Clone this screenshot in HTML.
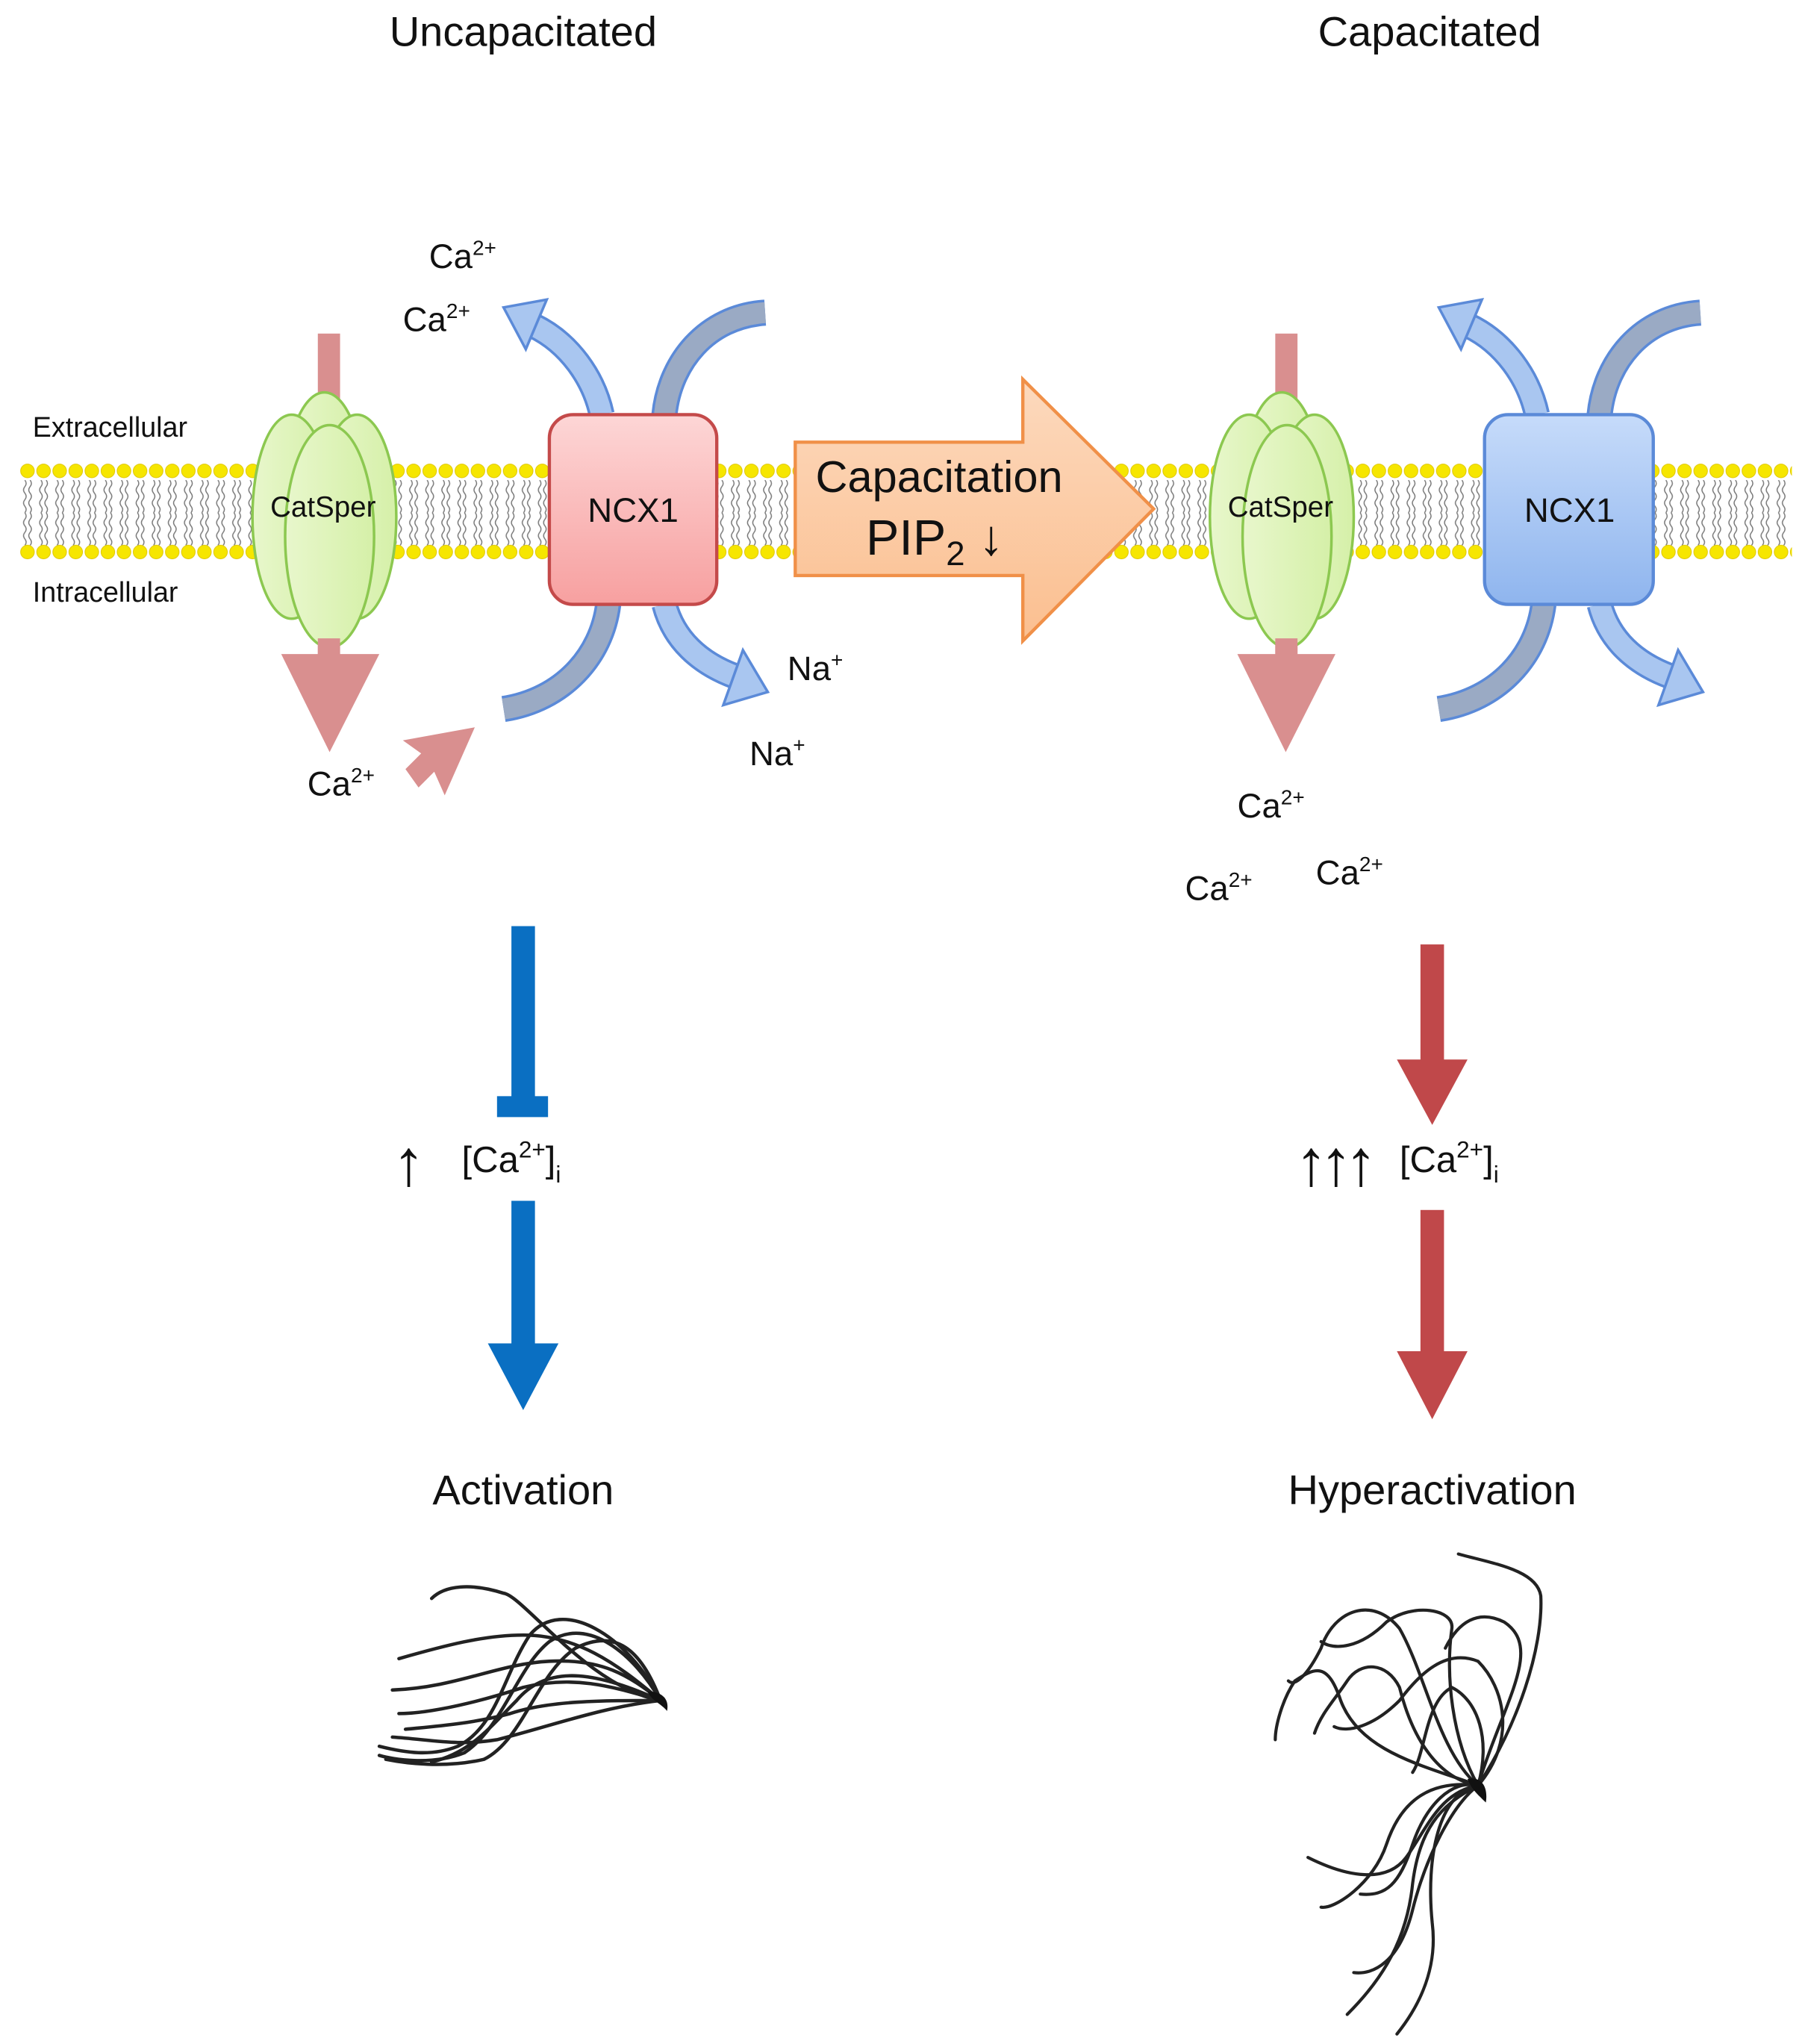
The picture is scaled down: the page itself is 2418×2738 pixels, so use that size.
<!DOCTYPE html>
<html><head><meta charset="utf-8"><style>
html,body{margin:0;padding:0;background:#fff;}
svg{display:block;}
text{font-family:"Liberation Sans",Arial,sans-serif;fill:#111;}
</style></head><body>
<svg width="2418" height="2738" viewBox="0 0 1380 1562.6" xmlns="http://www.w3.org/2000/svg">
<defs>
<pattern id="headsT" x="15" y="350" width="12.3" height="20" patternUnits="userSpaceOnUse">
<circle cx="6" cy="10" r="5.2" fill="#f6e600" stroke="#e0c800" stroke-width="0.6"/>
</pattern>
<pattern id="headsB" x="15" y="412" width="12.3" height="20" patternUnits="userSpaceOnUse">
<circle cx="6" cy="10" r="5.2" fill="#f6e600" stroke="#e0c800" stroke-width="0.6"/>
</pattern>
<pattern id="tails" x="15" y="367" width="12.3" height="25" patternUnits="userSpaceOnUse">
<path d="M4,0 q2,2.5 0,5 q-2,2.5 0,5 q2,2.5 0,5 q-2,2.5 0,5 q2,2.5 0,5 M8,0 q2,2.5 0,5 q-2,2.5 0,5 q2,2.5 0,5 q-2,2.5 0,5 q2,2.5 0,5" fill="none" stroke="#777" stroke-width="0.8"/>
</pattern>
<linearGradient id="pink" x1="0" y1="0" x2="0" y2="1"><stop offset="0" stop-color="#fdd6d6"/><stop offset="1" stop-color="#f7a0a0"/></linearGradient>
<linearGradient id="blue" x1="0" y1="0" x2="0" y2="1"><stop offset="0" stop-color="#c6dbfa"/><stop offset="1" stop-color="#8fb5ee"/></linearGradient>
<linearGradient id="green" x1="0" y1="0" x2="1" y2="0"><stop offset="0" stop-color="#e8f7cc"/><stop offset="1" stop-color="#d5f0a8"/></linearGradient>
<linearGradient id="orange" x1="0" y1="0" x2="0" y2="1"><stop offset="0" stop-color="#fcd9bd"/><stop offset="1" stop-color="#fbbf90"/></linearGradient>
<g id="catsper">
<ellipse cx="0" cy="-20" rx="30" ry="75" fill="url(#green)" stroke="#8cc850" stroke-width="2"/>
<ellipse cx="-25" cy="0" rx="30" ry="78" fill="url(#green)" stroke="#8cc850" stroke-width="2"/>
<ellipse cx="25" cy="0" rx="30" ry="78" fill="url(#green)" stroke="#8cc850" stroke-width="2"/>
<ellipse cx="4" cy="15" rx="34" ry="85" fill="url(#green)" stroke="#8cc850" stroke-width="2"/>
</g>
<g id="exch">
<path d="M40,0 C34,-28 15,-55 -12,-68" fill="none" stroke="#5b8ad8" stroke-width="20"/>
<path d="M40,0 C34,-28 15,-55 -12,-68" fill="none" stroke="#a9c6f0" stroke-width="16"/>
<polygon points="-35,-82 -2,-88 -18,-50" fill="#a9c6f0" stroke="#5b8ad8" stroke-width="2"/>
<path d="M88,0 C92,-40 120,-75 165,-78" fill="none" stroke="#5b8ad8" stroke-width="20"/>
<path d="M88,0 C92,-40 120,-75 165,-78" fill="none" stroke="#9aaac4" stroke-width="16"/>
<path d="M45,145 C40,185 10,218 -35,225" fill="none" stroke="#5b8ad8" stroke-width="20"/>
<path d="M45,145 C40,185 10,218 -35,225" fill="none" stroke="#9aaac4" stroke-width="16"/>
<path d="M88,145 C95,172 115,190 142,200" fill="none" stroke="#5b8ad8" stroke-width="20"/>
<path d="M88,145 C95,172 115,190 142,200" fill="none" stroke="#a9c6f0" stroke-width="16"/>
<polygon points="167,212 148,180 133,222" fill="#a9c6f0" stroke="#5b8ad8" stroke-width="2"/>
</g>
</defs>

<text x="400" y="35" font-size="32" text-anchor="middle">Uncapacitated</text>
<text x="1093" y="35" font-size="32" text-anchor="middle">Capacitated</text>

<!-- membrane -->
<rect x="15" y="367" width="1355" height="50" fill="url(#tails)"/>
<rect x="15" y="350" width="1355" height="20" fill="url(#headsT)"/>
<rect x="15" y="412" width="1355" height="20" fill="url(#headsB)"/>

<text x="25" y="334" font-size="21.5">Extracellular</text>
<text x="25" y="460" font-size="21.5">Intracellular</text>

<!-- Left side -->
<rect x="243" y="255" width="17" height="250" fill="#d98f8f"/>
<use href="#catsper" x="248" y="395"/>
<rect x="243" y="488" width="17" height="14" fill="#d98f8f"/>
<polygon points="215,500 290,500 252,575" fill="#d98f8f"/>
<text x="247" y="395" font-size="22" text-anchor="middle">CatSper</text>

<use href="#exch" x="420" y="317"/>
<rect x="420" y="317" width="128" height="145" rx="18" fill="url(#pink)" stroke="#c44a4a" stroke-width="2.5"/>
<text x="484" y="399" font-size="26" text-anchor="middle">NCX1</text>

<text x="328" y="205" font-size="26">Ca<tspan font-size="16" dy="-10">2+</tspan></text>
<text x="308" y="253" font-size="26">Ca<tspan font-size="16" dy="-10">2+</tspan></text>
<text x="602" y="520" font-size="26">Na<tspan font-size="16" dy="-10">+</tspan></text>
<text x="573" y="585" font-size="26">Na<tspan font-size="16" dy="-10">+</tspan></text>
<text x="235" y="608" font-size="26">Ca<tspan font-size="16" dy="-10">2+</tspan></text>
<polygon points="363,556 340,608 332,590 320,602 310,588 322,576 308,566" fill="#d98f8f"/>

<!-- orange arrow -->
<polygon points="608,338 782,338 782,290 882,389 782,490 782,440 608,440" fill="url(#orange)" stroke="#f09048" stroke-width="2.5"/>
<text x="718" y="376" font-size="34" text-anchor="middle">Capacitation</text>
<text x="662" y="424" font-size="38">PIP<tspan font-size="26" dy="8">2</tspan><tspan dy="-8"> ↓</tspan></text>

<!-- Right side -->
<rect x="975" y="255" width="17" height="250" fill="#d98f8f"/>
<use href="#catsper" x="980" y="395"/>
<rect x="975" y="488" width="17" height="14" fill="#d98f8f"/>
<polygon points="946,500 1021,500 983,575" fill="#d98f8f"/>
<text x="979" y="395" font-size="22" text-anchor="middle">CatSper</text>

<use href="#exch" x="1135" y="317"/>
<rect x="1135" y="317" width="129" height="145" rx="18" fill="url(#blue)" stroke="#5b8ad8" stroke-width="2.5"/>
<text x="1200" y="399" font-size="26" text-anchor="middle">NCX1</text>

<text x="946" y="625" font-size="26">Ca<tspan font-size="16" dy="-10">2+</tspan></text>
<text x="906" y="688" font-size="26">Ca<tspan font-size="16" dy="-10">2+</tspan></text>
<text x="1006" y="676" font-size="26">Ca<tspan font-size="16" dy="-10">2+</tspan></text>

<!-- left lower -->
<rect x="391" y="708" width="18" height="135" fill="#0a6fc2"/>
<rect x="380" y="838" width="39" height="16" fill="#0a6fc2"/>
<text x="300" y="906" font-size="50">↑</text>
<text x="353" y="896" font-size="28">[Ca<tspan font-size="18" dy="-11">2+</tspan><tspan dy="11">]</tspan><tspan font-size="18" dy="8">i</tspan></text>
<rect x="391" y="918" width="18" height="112" fill="#0a6fc2"/>
<polygon points="373,1027 427,1027 400,1078" fill="#0a6fc2"/>
<text x="400" y="1150" font-size="32" text-anchor="middle">Activation</text>

<!-- right lower -->
<rect x="1086" y="722" width="18" height="90" fill="#c0484a"/>
<polygon points="1068,810 1122,810 1095,860" fill="#c0484a"/>
<text x="990" y="906" font-size="50" letter-spacing="-6">↑↑↑</text>
<text x="1070" y="896" font-size="28">[Ca<tspan font-size="18" dy="-11">2+</tspan><tspan dy="11">]</tspan><tspan font-size="18" dy="8">i</tspan></text>
<rect x="1086" y="925" width="18" height="110" fill="#c0484a"/>
<polygon points="1068,1033 1122,1033 1095,1085" fill="#c0484a"/>
<text x="1095" y="1150" font-size="32" text-anchor="middle">Hyperactivation</text>

<!-- flagella left -->
<g fill="none" stroke="#222" stroke-width="2.6" stroke-linecap="round">
<path d="M505,1300 C470,1270 440,1250 400,1250 C370,1250 340,1258 305,1268"/>
<path d="M505,1300 C480,1280 460,1268 420,1270 C380,1272 350,1290 300,1292"/>
<path d="M505,1300 C470,1290 440,1280 400,1290 C370,1300 330,1310 305,1310"/>
<path d="M505,1300 C460,1300 420,1300 390,1310 C360,1318 330,1320 310,1322"/>
<path d="M505,1300 C480,1250 430,1220 405,1250 C385,1280 380,1320 350,1335 C330,1343 310,1340 290,1335"/>
<path d="M505,1300 C485,1265 450,1235 420,1255 C395,1275 385,1320 355,1340 C330,1350 300,1345 290,1342"/>
<path d="M505,1300 C490,1260 470,1245 440,1260 C410,1280 400,1330 370,1345 C340,1352 310,1348 295,1345"/>
<path d="M505,1300 C460,1280 420,1270 395,1300 C375,1320 360,1340 330,1347"/>
<path d="M505,1300 C450,1290 400,1220 385,1218 M385,1218 C360,1210 340,1212 330,1222"/>
<path d="M505,1300 C460,1305 420,1320 380,1330 C350,1335 330,1330 300,1328"/>
</g>
<path d="M495,1293 C505,1293 512,1298 510,1308 C505,1302 498,1300 495,1293 Z" fill="#111"/>

<!-- flagella right -->
<g fill="none" stroke="#222" stroke-width="2.4" stroke-linecap="round">
<path d="M1130,1365 C1160,1320 1180,1260 1178,1220 C1175,1200 1140,1195 1115,1188"/>
<path d="M1130,1365 C1110,1330 1105,1280 1110,1245 C1112,1230 1080,1225 1060,1240 C1040,1260 1020,1262 1010,1255"/>
<path d="M1130,1365 C1100,1340 1090,1280 1070,1245 C1050,1220 1020,1230 1010,1260 C1000,1280 990,1290 985,1285"/>
<path d="M1130,1365 C1090,1350 1040,1340 1025,1300 C1015,1270 1005,1275 990,1285 C980,1300 975,1320 975,1330"/>
<path d="M1130,1365 C1160,1330 1150,1290 1130,1270 C1105,1260 1085,1280 1070,1300 C1050,1320 1030,1325 1020,1320"/>
<path d="M1130,1365 C1100,1360 1080,1330 1070,1290 C1060,1270 1040,1270 1030,1285 C1020,1300 1010,1310 1005,1325"/>
<path d="M1130,1365 C1110,1360 1090,1380 1080,1410 C1070,1440 1060,1450 1040,1448"/>
<path d="M1130,1365 C1100,1370 1090,1400 1075,1420 C1060,1440 1030,1435 1000,1420"/>
<path d="M1130,1365 C1100,1380 1085,1400 1080,1440 C1075,1490 1050,1520 1030,1540"/>
<path d="M1130,1365 C1100,1370 1090,1420 1095,1470 C1100,1510 1080,1540 1068,1555"/>
<path d="M1130,1365 C1110,1380 1090,1420 1080,1460 C1070,1500 1050,1510 1035,1508"/>
<path d="M1130,1365 C1090,1360 1070,1380 1060,1410 C1050,1440 1020,1460 1010,1458"/>
<path d="M1130,1365 C1140,1330 1130,1300 1110,1290 C1090,1300 1090,1340 1080,1355"/>
<path d="M1130,1365 C1150,1300 1180,1260 1150,1240 C1130,1230 1115,1240 1105,1260"/>
</g>
<path d="M1122,1360 C1132,1358 1138,1365 1136,1378 C1130,1372 1125,1368 1122,1360 Z" fill="#111"/>
</svg>
</body></html>
